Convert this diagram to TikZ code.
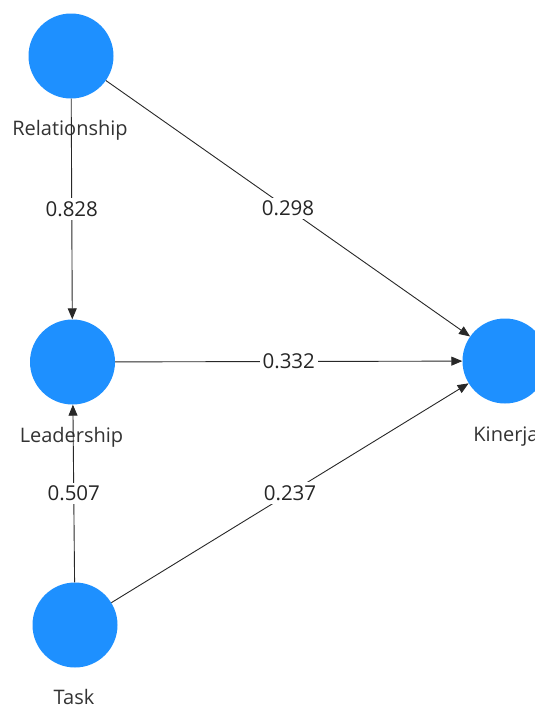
\documentclass[tikz,border=0pt]{standalone}
\usepackage{fontspec}
\setmainfont{Open Sans}
\usetikzlibrary{arrows.meta}
\definecolor{nodeblue}{RGB}{30,144,255}
\definecolor{edgegray}{RGB}{40,40,40}
\tikzset{
  latent/.style={circle, fill=nodeblue, draw=none, minimum size=85pt, inner sep=0pt},
  lbl/.style={anchor=base, font=\fontsize{20}{24}\selectfont, text=black!80, inner sep=0pt},
  path/.style={draw=edgegray, line width=0.9pt, -{Triangle[length=11pt,width=9pt]}},
  coef/.style={fill=white, inner sep=3pt, font=\fontsize{20.5}{24}\selectfont, text=black!85}
}
\begin{document}
\begin{tikzpicture}[x=1pt,y=-1pt]
\useasboundingbox (0,0) rectangle (535,705);
\fill[white] (0,0) rectangle (535,705);
\begin{scope}
\clip (0,0) rectangle (535,705);
\node[latent] (rel) at (71,56) {};
\node[latent] (lead) at (72.5,362) {};
\node[latent] (task) at (75,625) {};
\node[latent] (kin) at (505,361) {};

\node[lbl] (relL) at (70,135) {Relationship};
\node[lbl] (leadL) at (71.5,442) {Leadership};
\node[lbl] (taskL) at (74,704) {Task};
\node[lbl] (kinL) at (506,441) {Kinerja};

\draw[path] (rel) -- node[coef] {0.828} (lead);
\draw[path] (rel) -- node[coef] {0.298} (kin);
\draw[path] (lead) -- node[coef] {0.332} (kin);
\draw[path] (task) -- node[coef] {0.507} (lead);
\draw[path] (task) -- node[coef] {0.237} (kin);
\end{scope}
\end{tikzpicture}
\end{document}
